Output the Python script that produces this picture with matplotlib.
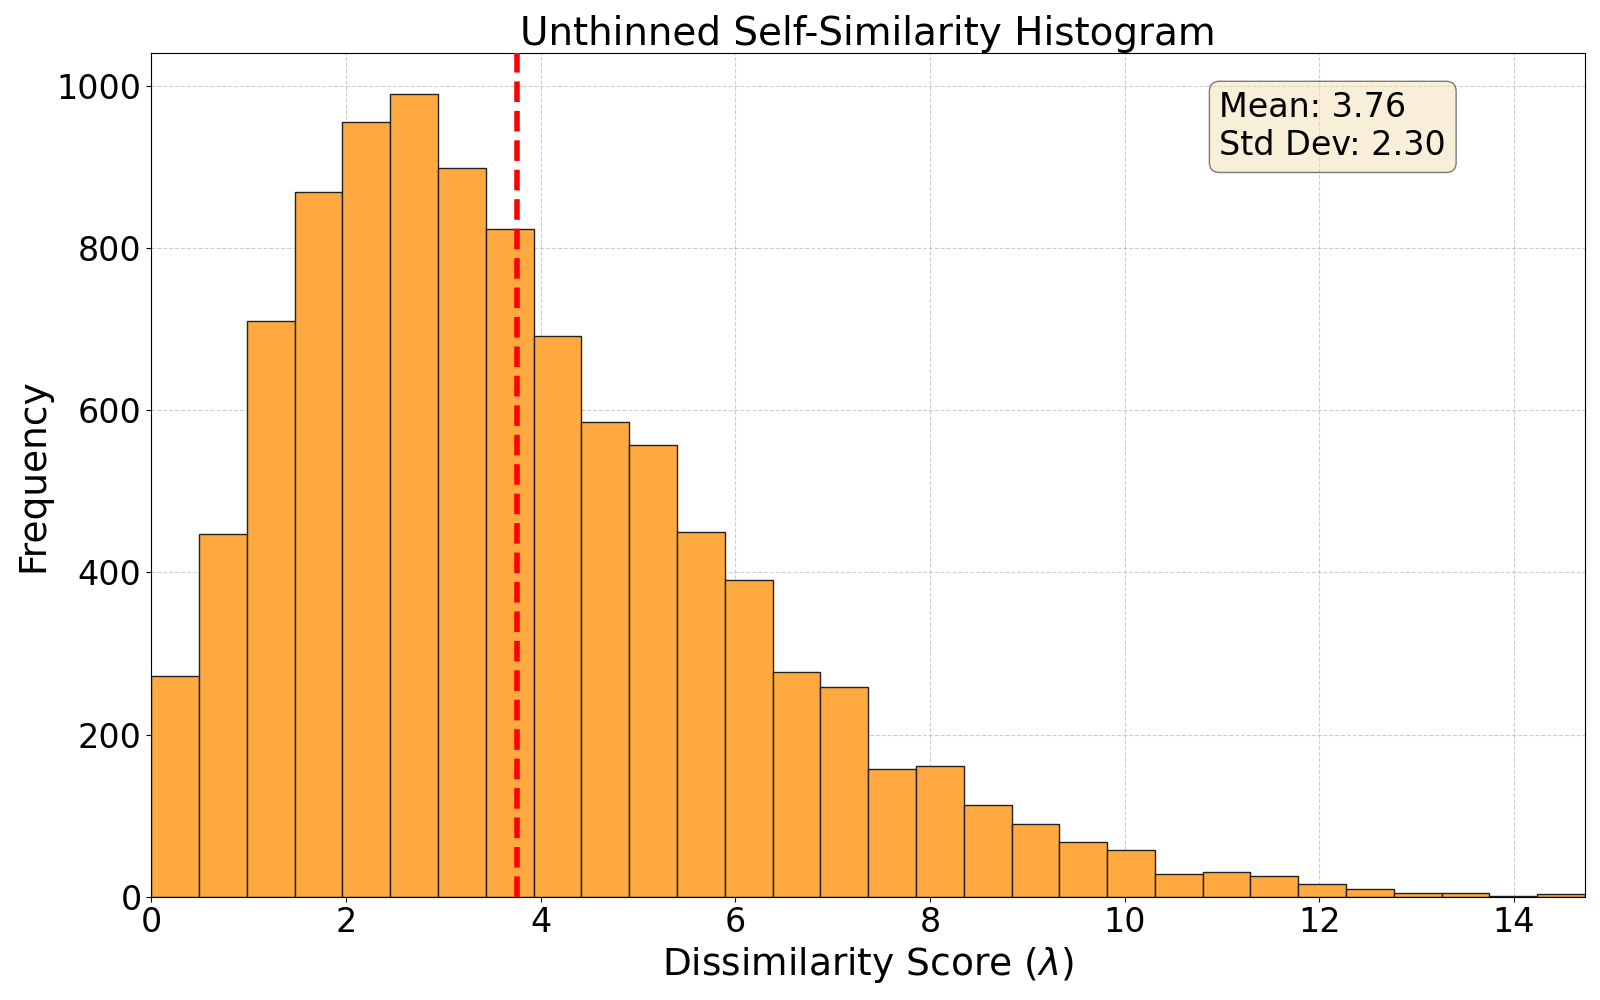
import numpy as np
import matplotlib.pyplot as plt

# histogram counts
counts = [272, 447, 710, 869, 955, 990, 898, 823, 692, 585, 557, 450, 391, 277, 259,
          158, 161, 113, 90, 67, 57, 28, 30, 25, 16, 10, 4, 4, 1, 3]
x_max = 14.73
mean_val = 3.76
std_val = 2.30

edges = np.linspace(0, x_max, len(counts) + 1)

fig, ax = plt.subplots(figsize=(16, 10), dpi=100)
ax.bar(edges[:-1], counts, width=np.diff(edges), align='edge',
       color='#ffa940', edgecolor='#222222', linewidth=1.0, zorder=2)
ax.axvline(mean_val, color='red', linestyle='--', linewidth=4, zorder=3)

ax.set_xlim(0, x_max)
ax.set_ylim(0, 1040)
ax.grid(True, linestyle='--', alpha=0.6, zorder=0)
ax.set_axisbelow(True)
ax.set_title('Unthinned Self-Similarity Histogram', fontsize=28)
ax.set_xlabel(r'Dissimilarity Score ($\lambda$)', fontsize=27)
ax.set_ylabel('Frequency', fontsize=27)
ax.tick_params(labelsize=24)

ax.text(0.745, 0.955, f'Mean: {mean_val:.2f}\nStd Dev: {std_val:.2f}',
        transform=ax.transAxes, fontsize=24, va='top',
        bbox=dict(boxstyle='round', facecolor='wheat', alpha=0.5))

plt.tight_layout()
plt.savefig('out.png')
